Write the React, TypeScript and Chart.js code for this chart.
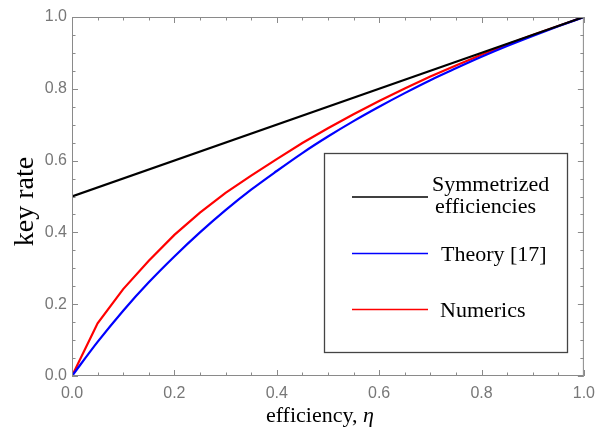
import React, { useEffect, useRef } from "react";
import { Chart, registerables } from "chart.js";

Chart.register(...registerables);

const etaGrid = [0, 0.05, 0.1, 0.15, 0.2, 0.25, 0.3, 0.35, 0.4, 0.45, 0.5, 0.55, 0.6, 0.65, 0.7, 0.75, 0.8, 0.85, 0.9, 0.95, 1.0];
const theoryRate = [0, 0.095, 0.182, 0.261, 0.333, 0.4, 0.462, 0.519, 0.571, 0.621, 0.667, 0.71, 0.75, 0.788, 0.824, 0.857, 0.889, 0.919, 0.947, 0.974, 1.0];
const numericsRate = [0, 0.147, 0.242, 0.321, 0.393, 0.455, 0.51, 0.558, 0.604, 0.649, 0.69, 0.729, 0.766, 0.801, 0.834, 0.865, 0.895, 0.923, 0.95, 0.975, 1.0];
const symEta = [0, 1];
const symRate = [0.5, 1.0];

const xTitleMain = "efficiency, ";
const xTitleSym = "η";
const yTitle = "key rate";
const legendLabels = [["Symmetrized", "efficiencies"], ["Theory [17]"], ["Numerics"]];
const seriesColors = ["#000000", "#0000ff", "#ff0000"];

const SERIF = "'Liberation Serif', 'Times New Roman', serif";
const SANS = "'Liberation Sans', Arial, sans-serif";

const isMajor = (v: number) => Math.round(v * 100) % 20 === 0;

const framePlugin = {
  id: "framePlugin",
  afterDraw(chart: any) {
    const { ctx, chartArea } = chart;
    const { left, right, top, bottom } = chartArea;
    const xs = chart.scales.x;
    const ys = chart.scales.y;
    ctx.save();
    ctx.strokeStyle = "#8a8a8a";
    ctx.lineWidth = 1;
    ctx.strokeRect(left + 0.5, top + 0.5, right - left - 1, bottom - top - 1);
    ctx.beginPath();
    xs.ticks.forEach((t: any) => {
      const px = Math.round(xs.getPixelForValue(t.value)) + 0.5;
      const len = isMajor(t.value) ? 6 : 3.5;
      ctx.moveTo(px, bottom);
      ctx.lineTo(px, bottom - len);
      ctx.moveTo(px, top);
      ctx.lineTo(px, top + len);
    });
    ys.ticks.forEach((t: any) => {
      const py = Math.round(ys.getPixelForValue(t.value)) + 0.5;
      const len = isMajor(t.value) ? 6 : 3.5;
      ctx.moveTo(left, py);
      ctx.lineTo(left + len, py);
      ctx.moveTo(right, py);
      ctx.lineTo(right - len, py);
    });
    ctx.stroke();

    // x axis title with italic eta
    ctx.fillStyle = "#000";
    ctx.textBaseline = "alphabetic";
    ctx.textAlign = "left";
    const fMain = `22px ${SERIF}`;
    const fIt = `italic 22px ${SERIF}`;
    ctx.font = fMain;
    const w1 = ctx.measureText(xTitleMain).width;
    ctx.font = fIt;
    const w2 = ctx.measureText(xTitleSym).width;
    const cx = (left + right) / 2 - 8;
    const sx = cx - (w1 + w2) / 2;
    ctx.font = fMain;
    ctx.fillText(xTitleMain, sx, bottom + 46);
    ctx.font = fIt;
    ctx.fillText(xTitleSym, sx + w1, bottom + 46);

    // y axis title
    ctx.save();
    ctx.translate(left - 39, (top + bottom) / 2 + 5);
    ctx.rotate(-Math.PI / 2);
    ctx.font = `28px ${SERIF}`;
    ctx.textAlign = "center";
    ctx.fillText(yTitle, 0, 0);
    ctx.restore();

    // legend
    ctx.textAlign = "left";
    const bx = left + 252;
    const by = top + 136;
    const bw = 243;
    const bh = 199;
    ctx.fillStyle = "#ffffff";
    ctx.fillRect(bx, by, bw, bh);
    ctx.strokeStyle = "#444444";
    ctx.lineWidth = 1.3;
    ctx.strokeRect(bx + 0.5, by + 0.5, bw, bh);
    const rowsY = [44, 100.5, 156.5];
    const textOff = [[108, -6, 111, 16], [117, 7], [116, 7.5]];
    legendLabels.forEach((lines, i) => {
      const ly = by + rowsY[i];
      ctx.strokeStyle = seriesColors[i];
      ctx.lineWidth = 1.6;
      ctx.beginPath();
      ctx.moveTo(bx + 28, ly);
      ctx.lineTo(bx + 104, ly);
      ctx.stroke();
      ctx.fillStyle = "#000";
      ctx.font = `22px ${SERIF}`;
      const o = textOff[i];
      lines.forEach((s, j) => {
        ctx.fillText(s, bx + o[j * 2], ly + o[j * 2 + 1]);
      });
    });
    ctx.restore();
  },
};

export default function App() {
  const ref = useRef<HTMLCanvasElement | null>(null);
  useEffect(() => {
    if (!ref.current) return;
    const chart = new Chart(ref.current, {
      type: "line",
      data: {
        datasets: [
          {
            label: "Symmetrized efficiencies",
            data: symEta.map((x, i) => ({ x, y: symRate[i] })),
            borderColor: seriesColors[0],
            borderWidth: 2.2,
            pointRadius: 0,
            fill: false,
          },
          {
            label: "Theory [17]",
            data: etaGrid.map((x, i) => ({ x, y: theoryRate[i] })),
            borderColor: seriesColors[1],
            borderWidth: 2.2,
            pointRadius: 0,
            cubicInterpolationMode: "monotone",
            fill: false,
          },
          {
            label: "Numerics",
            data: etaGrid.map((x, i) => ({ x, y: numericsRate[i] })),
            borderColor: seriesColors[2],
            borderWidth: 2.2,
            pointRadius: 0,
            tension: 0,
            fill: false,
          },
        ],
      },
      options: {
        animation: false,
        responsive: false,
        layout: { padding: { top: 17, right: 17, left: 0, bottom: 0 } },
        plugins: { legend: { display: false }, tooltip: { enabled: false } },
        scales: {
          x: {
            type: "linear",
            min: 0,
            max: 1,
            grid: { display: false, drawTicks: false },
            border: { display: false },
            afterBuildTicks: (s: any) => {
              s.ticks = etaGrid.map((v) => ({ value: v }));
            },
            afterFit: (s: any) => {
              s.height = 52;
            },
            ticks: {
              autoSkip: false,
              maxRotation: 0,
              padding: 8,
              color: "#777777",
              font: { family: SANS, size: 16 },
              callback: (v: any) => (isMajor(Number(v)) ? Number(v).toFixed(1) : ""),
            },
          },
          y: {
            type: "linear",
            min: 0,
            max: 1,
            grid: { display: false, drawTicks: false },
            border: { display: false },
            afterBuildTicks: (s: any) => {
              s.ticks = etaGrid.map((v) => ({ value: v }));
            },
            afterFit: (s: any) => {
              s.width = 72;
            },
            ticks: {
              autoSkip: false,
              padding: 5,
              color: "#777777",
              font: { family: SANS, size: 16 },
              callback: (v: any) => (isMajor(Number(v)) ? Number(v).toFixed(1) : ""),
            },
          },
        },
      },
      plugins: [framePlugin],
    });
    return () => chart.destroy();
  }, []);
  return (
    <div style={{ position: "absolute", left: 0, top: 0, width: 603, height: 428, background: "#fff" }}>
      <canvas ref={ref} width={603} height={428} style={{ width: 603, height: 428 }} />
    </div>
  );
}
